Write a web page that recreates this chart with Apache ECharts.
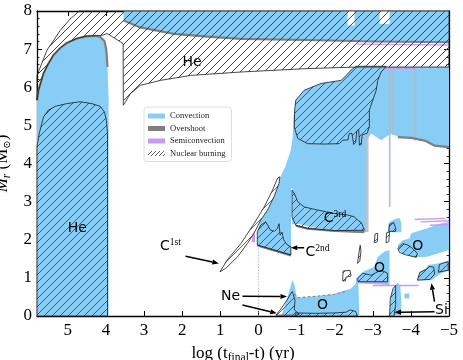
<!DOCTYPE html>
<html>
<head>
<meta charset="utf-8">
<style>
html, body { margin: 0; padding: 0; background: #fff; }
#main { width: 463px; height: 360px; }
</style>
</head>
<body>
<div id="main"></div>
<script src="https://cdn.jsdelivr.net/npm/echarts@6/dist/echarts.min.js"></script>
<script>
// ---- convective zones [log(t_final - t), M_r] ----
var coreConv = [[5.81,0],[5.81,5.66],[5.77,5.92],[5.64,6.36],[5.51,6.62],[5.38,6.84],[5.2,7.03],[5.03,7.16],[4.76,7.28],[4.5,7.34],[4.28,7.35],[4.15,7.32],[4.04,7.21],[3.99,6.97],[3.96,6.53],[3.93,5.66],[3.93,0]];
var envConv = [[3.54,8],[-5,8],[-5,7.19],[-3.04,7.21],[-1.29,7.25],[0.46,7.28],[1.34,7.34],[2.22,7.41],[3.1,7.58],[3.54,7.76]];
var shellConv = [[0.03,1.86],[-0.41,1.73],[-0.85,1.6],[-0.86,2.4],[-1.03,2.42],[-1.38,2.33],[-1.99,2.25],[-2.83,2.2],[-2.83,4.6],[-2.96,4.79],[-3.22,4.61],[-3.48,4.79],[-3.66,4.7],[-4.01,4.68],[-4.36,4.61],[-4.62,4.48],[-5,4.44],[-5,6.53],[-2.56,6.53],[-2.43,6.45],[-2.3,6.31],[-2.17,6.18],[-1.64,6.1],[-1.2,5.92],[-0.98,5.66],[-0.92,5.2],[-0.9,4.7],[-0.85,4.35],[-0.7,3.9],[-0.56,3.62],[-0.41,3.13],[-0.24,2.78],[-0.06,2.52],[0.02,2.25]];
var oTopConv = [[-3.39,2.2],[-3.42,2.45],[-3.5,2.5],[-3.6,2.55],[-3.7,2.57],[-3.75,2.45],[-3.75,2.2]];
var oRightConv = [[-3.66,1.86],[-3.79,1.99],[-3.96,2.03],[-4.01,2.17],[-4.27,2.25],[-4.54,2.34],[-4.8,2.43],[-5,2.47],[-5,1.73],[-4.71,1.64],[-4.4,1.55],[-4.1,1.54],[-3.79,1.64],[-3.66,1.75]];
var oMidConv = [[-2.56,0.99],[-2.74,1.16],[-3.04,1.29],[-3.13,1.55],[-3.31,1.69],[-3.44,1.73],[-3.44,0.81],[-2.56,0.86]];
var oBotConv = [[-0.76,0],[-0.83,0.38],[-0.94,0.59],[-1.03,0.47],[-1.55,0.52],[-1.99,0.58],[-2.43,0.72],[-2.52,0.81],[-2.62,0.94],[-2.65,0]];
var neConv = [[-0.6,0],[-0.75,0.45],[-0.85,0.8],[-0.9,0.95],[-0.95,0.8],[-1.0,0.5],[-1.05,0]];
var siConv = [[-3.44,0],[-3.48,0.52],[-3.57,0.78],[-3.66,0.87],[-3.72,0.78],[-3.75,0.4],[-3.75,0]];
var siUpConv = [[-4.17,0.94],[-4.23,1.16],[-4.4,1.25],[-4.45,1.34],[-4.71,1.38],[-4.89,1.42],[-5,1.47],[-5,1.2],[-4.8,1.12],[-4.54,0.94]];
var siDotConv = [[-3.83,0.46],[-3.83,0.59],[-3.96,0.59],[-3.96,0.46]];

// radiative gaps inside convective zones
var envGapA = [[-2.34,8],[-2.52,8],[-2.52,7.62],[-2.34,7.62]];
var envGapB = [[-3.18,8],[-3.44,8],[-3.44,7.66],[-3.18,7.66]];
var c3Gap = [[-0.855,1.62],[-0.885,1.62],[-0.885,3.35],[-0.855,3.35]];

// overshoot edges and strips
var coreEdge = coreConv.slice(1, 15);
var envEdge = [[3.54,7.75],[3.1,7.57],[2.22,7.4],[1.34,7.33],[0.46,7.27],[-1.29,7.24],[-3.04,7.2],[-5,7.18]];
var c2Edge = [[0.03,1.85],[-0.41,1.72],[-0.85,1.59]];
var c3Edge = [[-0.98,2.37],[-1.29,2.29],[-1.99,2.23],[-2.78,2.2]];
var shellEdge = [[-3.66,4.69],[-4.01,4.67],[-4.36,4.6],[-4.62,4.47],[-5,4.43]];
var oBotEdge = [[-0.94,0.58],[-1.03,0.48],[-1.55,0.52],[-1.99,0.57],[-2.34,0.66]];
var stripA = [[-2.82,4.8],[-2.89,4.8],[-2.89,2.2],[-2.82,2.2]];
var stripB = [[-3.42,6.53],[-3.47,6.53],[-3.47,2.86],[-3.42,2.86]];
var stripC = [[-4.08,6.53],[-4.14,6.53],[-4.14,4.6],[-4.08,4.6]];
var stripD = [[-3.5,6.53],[-3.56,6.53],[-3.56,4.75],[-3.5,4.75]];

// semiconvection
var semiA = [[-2.6,7.13],[-5,7.11]];
var semiB = [[-3.3,6.5],[-4.1,6.5]];
var semiC = [[-4.25,2.47],[-5,2.5]];
var semiD = [[-4.1,2.53],[-4.9,2.56]];
var semiE = [[-4.5,2.38],[-5,2.4]];
var semiF = [[-2.65,0.88],[-3.4,0.88]];
var semiG = [[-3.0,0.8],[-4.2,0.8]];
var semiZero = [[0,0],[0,1.9]];
var semiPatch = [[0.18,1.95],[0.15,2.15],[0.09,2.2],[0.09,1.92]];

// nuclear burning zones
var coreBurn = [[5.81,0],[5.81,4.44],[5.75,4.79],[5.64,5.22],[5.51,5.4],[5.33,5.5],[5.03,5.57],[4.68,5.62],[4.37,5.57],[4.15,5.5],[4.04,5.35],[3.99,5.14],[3.96,4.79],[3.96,0]];
var heShellBurn = [[5.81,5.66],[5.81,6.31],[5.55,6.97],[5.2,7.49],[4.95,7.78],[4.7,8],[-5,8],[-5,6.53],[-2.61,6.53],[-1.29,6.49],[0.46,6.4],[1.78,6.31],[2.57,6.18],[3.1,6.05],[3.36,5.83],[3.5,5.6],[3.545,5.53],[3.55,7.14],[3.62,7.19],[3.97,7.41],[4.1,7.36],[4.28,7.35],[4.5,7.34],[4.76,7.28],[5.03,7.16],[5.2,7.03],[5.38,6.84],[5.51,6.62],[5.64,6.36],[5.77,5.92]];
var cShellBurn = [[-0.98,5.66],[-1.2,5.92],[-1.64,6.1],[-2.17,6.18],[-2.3,6.31],[-2.43,6.45],[-2.56,6.55],[-3.35,6.55],[-3.22,6.4],[-3.13,6.18],[-3.09,5.92],[-3.0,5.66],[-2.91,5.4],[-2.91,4.96],[-2.85,4.79],[-2.72,4.75],[-2.7,4.5],[-2.65,4.48],[-2.63,4.9],[-2.58,4.85],[-2.55,4.55],[-2.5,4.5],[-2.45,4.8],[-2.38,4.78],[-2.35,4.62],[-2.21,4.61],[-2.12,4.52],[-1.73,4.51],[-1.29,4.52],[-1.03,4.66],[-0.94,4.96],[-0.95,5.4]];
var c2Burn = [[0.03,2.21],[-0.06,2.38],[-0.19,2.47],[-0.32,2.25],[-0.42,2.22],[-0.5,2.3],[-0.54,2.42],[-0.57,2.12],[-0.62,2.2],[-0.66,2.0],[-0.76,1.86],[-0.85,1.82],[-0.85,1.6],[-0.41,1.73],[0.03,1.86]];
var c3Burn = [[-0.88,3.3],[-0.95,3.2],[-1.03,3.0],[-1.2,2.86],[-1.55,2.78],[-1.99,2.69],[-2.34,2.65],[-2.52,2.6],[-2.62,2.5],[-2.7,2.45],[-2.78,2.25],[-1.99,2.24],[-1.29,2.3],[-0.98,2.38],[-0.88,2.6]];
var oTopBurn = [[-3.42,2.22],[-3.44,2.4],[-3.55,2.45],[-3.6,2.3],[-3.6,2.22]];
var oRightBurn = [[-3.66,1.77],[-3.79,1.9],[-3.92,1.86],[-4.05,1.77],[-4.17,1.64],[-4.14,1.54],[-3.88,1.6],[-3.7,1.67]];
var oMidBurn = [[-2.61,0.99],[-2.74,1.12],[-2.96,1.07],[-3.13,1.16],[-3.22,1.2],[-3.39,1.12],[-3.39,0.9],[-2.61,0.9]];
var oBotBurn = [[-0.98,0],[-0.98,0.08],[-1.5,0.07],[-2.0,0.08],[-2.3,0.1],[-2.4,0.16],[-2.55,0.12],[-2.6,0]];
var neBurn = [[-0.46,0.02],[-0.6,0.2],[-0.75,0.42],[-0.85,0.59],[-0.89,0.64],[-0.96,0.42],[-0.94,0.16],[-1.07,0.05],[-1.0,0.02]];
var siBurn = [[-3.44,0],[-3.46,0.45],[-3.53,0.72],[-3.6,0.8],[-3.6,0.3],[-3.56,0]];
var siUpBurn = [[-4.17,0.94],[-4.23,1.14],[-4.4,1.22],[-4.48,1.3],[-4.6,1.28],[-4.62,1.1],[-4.5,0.96]];
var siUpBurn2 = [[-4.72,1.15],[-4.75,1.35],[-4.88,1.4],[-4.98,1.42],[-4.98,1.2]];
// burning zones sitting on radiative (white) material
var c1Burn = [[1.01,1.16],[0.82,1.47],[0.46,1.9],[0.11,2.43],[-0.15,2.86],[-0.37,3.3],[-0.5,3.61],[-0.56,3.65],[-0.54,3.48],[-0.41,3.13],[-0.24,2.78],[-0.06,2.52],[0.1,2.2],[0.29,1.9],[0.55,1.55],[0.86,1.25]];
var smallBurnA = [[-2.21,0.92],[-2.22,1.18],[-2.4,1.2],[-2.43,1.05],[-2.3,1.02],[-2.28,0.92]];
var smallBurnB = [[-2.6,1.38],[-2.63,1.6],[-2.67,1.86],[-2.69,1.7],[-2.66,1.45]];
var smallBurnC = [[-3.04,1.92],[-3.06,2.15],[-3.13,2.17],[-3.12,1.95]];
var smallBurnD = [[-3.35,1.92],[-3.36,2.18],[-3.44,2.2],[-3.42,1.95]];

// annotations
var labelText = ['He', 'He', 'C{sup|1st}', 'C{sup|2nd}', 'C{sup|3rd}', 'Ne', 'O', 'O', 'O', 'Si'];
var labelPos = [[1.74,6.64],[4.75,2.31],[2.31,1.82],[-1.55,1.66],[-2.01,2.56],[0.73,0.52],[-1.68,0.29],[-3.18,1.25],[-4.18,1.82],[-4.8,0.14]];
var arrowFrom = [[1.91,1.57],[-1.2,1.79],[0.42,0.52],[0.42,0.29],[-4.62,0.11],[-4.62,0.38]];
var arrowTo = [[1.04,1.38],[-0.85,1.79],[-0.75,0.51],[-0.48,0.07],[-3.57,0.1],[-4.54,0.86]];

var convZones = [coreConv, envConv, shellConv, oTopConv, oRightConv, oMidConv, oBotConv, neConv, siConv, siUpConv, siDotConv];
var gapZones = [envGapA, envGapB, c3Gap];
var openBurn = [c1Burn, smallBurnA, smallBurnB, smallBurnC, smallBurnD];
var burnZones = [coreBurn, heShellBurn, cShellBurn, c2Burn, c3Burn, oTopBurn, oRightBurn, oMidBurn, oBotBurn, neBurn, siBurn,
  siUpBurn, siUpBurn2].concat(openBurn);

var BLUE = '#88cdf6', GRAY = '#7f7f7f', PURPLE = '#c99af2';
var HATCH_STEP = 8;

// "/" hatch tile used as a repeating fill
function makeHatch(step, width) {
  var cv = document.createElement('canvas');
  cv.width = cv.height = step;
  var g = cv.getContext('2d');
  g.strokeStyle = '#333';
  g.lineWidth = width;
  g.beginPath();
  g.moveTo(0, step); g.lineTo(step, 0);
  g.moveTo(-1, 1); g.lineTo(1, -1);
  g.moveTo(step - 1, step + 1); g.lineTo(step + 1, step - 1);
  g.stroke();
  return cv;
}
var hatchFill = { image: makeHatch(HATCH_STEP, 0.75), repeat: 'repeat' };
var hatchIcon = { image: makeHatch(4, 0.8), repeat: 'repeat' };

// "/" hatch lines (x + y = c in pixels) clipped to a pixel polygon
function hatchSegments(pts, step) {
  var minS = Infinity, maxS = -Infinity;
  pts.forEach(function (p) { var s = p[0] + p[1]; if (s < minS) minS = s; if (s > maxS) maxS = s; });
  var segs = [];
  for (var c = Math.ceil(minS / step) * step; c <= maxS; c += step) {
    var ts = [];
    for (var i = 0; i < pts.length; i++) {
      var a = pts[i], b = pts[(i + 1) % pts.length];
      var sa = a[0] + a[1], sb = b[0] + b[1];
      if ((sa <= c) !== (sb <= c)) ts.push(a[1] + (c - sa) / (sb - sa) * (b[1] - a[1]));
    }
    ts.sort(function (u, v) { return u - v; });
    for (var j = 0; j + 1 < ts.length; j += 2) {
      segs.push([[c - ts[j], ts[j]], [c - ts[j + 1], ts[j + 1]]]);
    }
  }
  return segs;
}

function polys(list, api, style) {
  return list.map(function (r) {
    return { type: 'polygon', shape: { points: r.map(function (p) { return api.coord(p); }) }, style: style };
  });
}
function lines(list, api, style) {
  return list.map(function (r) {
    return { type: 'polyline', shape: { points: r.map(function (p) { return api.coord(p); }) }, style: style };
  });
}

// draw every zone in one ordered group so the layering is explicit
function renderDiagram(params, api) {
  var els = [];
  els = els.concat(polys(convZones, api, { fill: BLUE }));
  els = els.concat(polys(gapZones, api, { fill: '#fff' }));
  els = els.concat(polys(openBurn, api, { fill: '#fff' }));
  els = els.concat(polys([stripA, stripB, stripC, stripD], api, { fill: '#aebccb', opacity: 0.85 }));
  els = els.concat(lines([coreEdge, envEdge, c2Edge, c3Edge, shellEdge], api, { fill: 'none', stroke: GRAY, lineWidth: 2.2 }));
  els = els.concat(lines([oBotEdge], api, { fill: 'none', stroke: '#8a8a8a', lineWidth: 1.2, lineDash: [3, 2] }));
  els = els.concat(lines([semiA, semiB, semiC, semiD, semiE, semiF, semiG], api, { fill: 'none', stroke: PURPLE, lineWidth: 1.4 }));
  els = els.concat(polys([semiPatch], api, { fill: PURPLE }));
  els = els.concat(lines([semiZero], api, { fill: 'none', stroke: '#b7a4dc', lineWidth: 0.8, lineDash: [1.5, 1.5] }));
  els = els.concat(polys(burnZones, api, { fill: hatchFill, stroke: '#1a1a1a', lineWidth: 0.8 }));
  arrowFrom.forEach(function (a, i) {
    var p = api.coord(a), q = api.coord(arrowTo[i]);
    var dx = q[0] - p[0], dy = q[1] - p[1], len = Math.sqrt(dx * dx + dy * dy);
    var ux = dx / len, uy = dy / len, hl = 6.5, hw = 2.6;
    var bx = q[0] - ux * hl, by = q[1] - uy * hl;
    els.push({ type: 'line', shape: { x1: p[0], y1: p[1], x2: bx, y2: by }, style: { stroke: '#000', lineWidth: 1.5 } });
    els.push({ type: 'polygon', shape: { points: [q, [bx - uy * hw, by + ux * hw], [bx + uy * hw, by - ux * hw]] }, style: { fill: '#000' } });
  });
  labelPos.forEach(function (pos, i) {
    var p = api.coord(pos);
    els.push({
      type: 'text', x: p[0], y: p[1],
      style: {
        text: labelText[i], fill: '#000', fontFamily: 'DejaVu Sans', fontSize: 14, lineHeight: 18,
        align: 'center', verticalAlign: 'middle',
        rich: { sup: { fontFamily: 'Liberation Serif', fontSize: 9.5, lineHeight: 10, verticalAlign: 'top', fill: '#000' } }
      }
    });
  });
  return { type: 'group', children: els };
}

function legendOnly(name) {
  return { type: 'custom', name: name, data: [], renderItem: function () { return null; } };
}

var chartDom = document.getElementById('main');
var myChart = echarts.init(chartDom, null, { renderer: 'canvas' });

var axisFont = { fontFamily: 'Liberation Serif', fontSize: 17, color: '#000' };
function fmt(v) { return v < 0 ? '\u2212' + (-v) : String(v); }

var option = {
  animation: false,
  grid: { left: 37, right: 14, top: 11, bottom: 44, containLabel: false, outerBoundsMode: 'none' },
  legend: {
    orient: 'vertical', left: 144, top: 107, z: 20,
    itemWidth: 17, itemHeight: 5, itemGap: 2.5,
    padding: [4, 6, 3, 4],
    backgroundColor: '#fff', borderColor: '#d6d6d6', borderWidth: 0.8, borderRadius: 3,
    textStyle: { fontFamily: 'Liberation Serif', fontSize: 8.5, lineHeight: 10, color: '#222' },
    data: [
      { name: 'Convection', icon: 'rect', itemStyle: { color: BLUE } },
      { name: 'Overshoot', icon: 'rect', itemStyle: { color: GRAY } },
      { name: 'Semiconvection', icon: 'rect', itemStyle: { color: PURPLE } },
      { name: 'Nuclear burning', icon: 'rect', itemStyle: { color: hatchIcon } }
    ]
  },
  xAxis: [{
    type: 'value', min: -5, max: 5.81, interval: 1, inverse: true, position: 'bottom',
    axisLine: { onZero: false, lineStyle: { color: '#000', width: 1.3 } },
    axisTick: { inside: true, length: 5, lineStyle: { color: '#000', width: 1 } },
    axisLabel: Object.assign({ margin: 6, showMaxLabel: false, formatter: fmt }, axisFont),
    splitLine: { show: false },
    name: 'log (t{sub|final}-t) (yr)', nameLocation: 'middle', nameGap: 22,
    nameTextStyle: {
      fontFamily: 'Liberation Serif', fontSize: 17, lineHeight: 20, color: '#000',
      rich: { sub: { fontFamily: 'Liberation Serif', fontSize: 11.5, lineHeight: 11, verticalAlign: 'bottom', color: '#000' } }
    }
  }, {
    type: 'value', min: -5, max: 5.81, interval: 1, inverse: true, position: 'top',
    axisLine: { onZero: false, lineStyle: { color: '#000', width: 1.3 } },
    axisTick: { inside: true, length: 5, lineStyle: { color: '#000', width: 1 } },
    axisLabel: { show: false }, splitLine: { show: false }
  }],
  yAxis: [{
    type: 'value', min: 0, max: 8, interval: 1, position: 'left',
    axisLine: { onZero: false, lineStyle: { color: '#000', width: 1.3 } },
    axisTick: { inside: true, length: 5, lineStyle: { color: '#000', width: 1 } },
    minorTick: { show: true, splitNumber: 5, length: 2.5, lineStyle: { color: '#000', width: 0.8 } },
    axisLabel: Object.assign({ margin: 5 }, axisFont),
    splitLine: { show: false },
    name: '{i|M}{is|r} (M{s|\u2299})', nameLocation: 'middle', nameGap: 18, nameRotate: 90,
    nameTextStyle: {
      fontFamily: 'Liberation Serif', fontSize: 17, lineHeight: 20, color: '#000',
      rich: {
        i: { fontFamily: 'Liberation Serif', fontStyle: 'italic', fontSize: 17, lineHeight: 20, color: '#000' },
        is: { fontFamily: 'Liberation Serif', fontStyle: 'italic', fontSize: 11.5, lineHeight: 11, verticalAlign: 'bottom', color: '#000' },
        s: { fontFamily: 'DejaVu Serif', fontSize: 10, lineHeight: 11, verticalAlign: 'bottom', color: '#000' }
      }
    }
  }, {
    type: 'value', min: 0, max: 8, interval: 1, position: 'right',
    axisLine: { onZero: false, lineStyle: { color: '#000', width: 1.3 } },
    axisTick: { inside: true, length: 5, lineStyle: { color: '#000', width: 1 } },
    minorTick: { show: true, splitNumber: 5, length: 2.5, lineStyle: { color: '#000', width: 0.8 } },
    axisLabel: { show: false }, splitLine: { show: false }
  }],
  series: [
    {
      type: 'custom', name: 'diagram', z: 2,
      data: [[0]], encode: { x: -1, y: -1 },
      renderItem: renderDiagram
    },
    legendOnly('Convection'),
    legendOnly('Overshoot'),
    legendOnly('Semiconvection'),
    legendOnly('Nuclear burning')
  ]
};

option && myChart.setOption(option);

// second pass: the He-shell hatching also drawn as a lines series, in data coordinates
var finder = { xAxisIndex: 0, yAxisIndex: 0 };
var shellPx = heShellBurn.map(function (p) { return myChart.convertToPixel(finder, p); });
var shellHatch = hatchSegments(shellPx, HATCH_STEP).map(function (s) {
  return { coords: [myChart.convertFromPixel(finder, s[0]), myChart.convertFromPixel(finder, s[1])] };
});
option.series.push({
  type: 'lines', name: 'shell hatch', coordinateSystem: 'cartesian2d', z: 3, silent: true,
  symbol: ['none', 'none'],
  lineStyle: { color: '#3a3a3a', width: 0.7, opacity: 1 },
  data: shellHatch
});
myChart.setOption(option);
</script>
</body>
</html>
